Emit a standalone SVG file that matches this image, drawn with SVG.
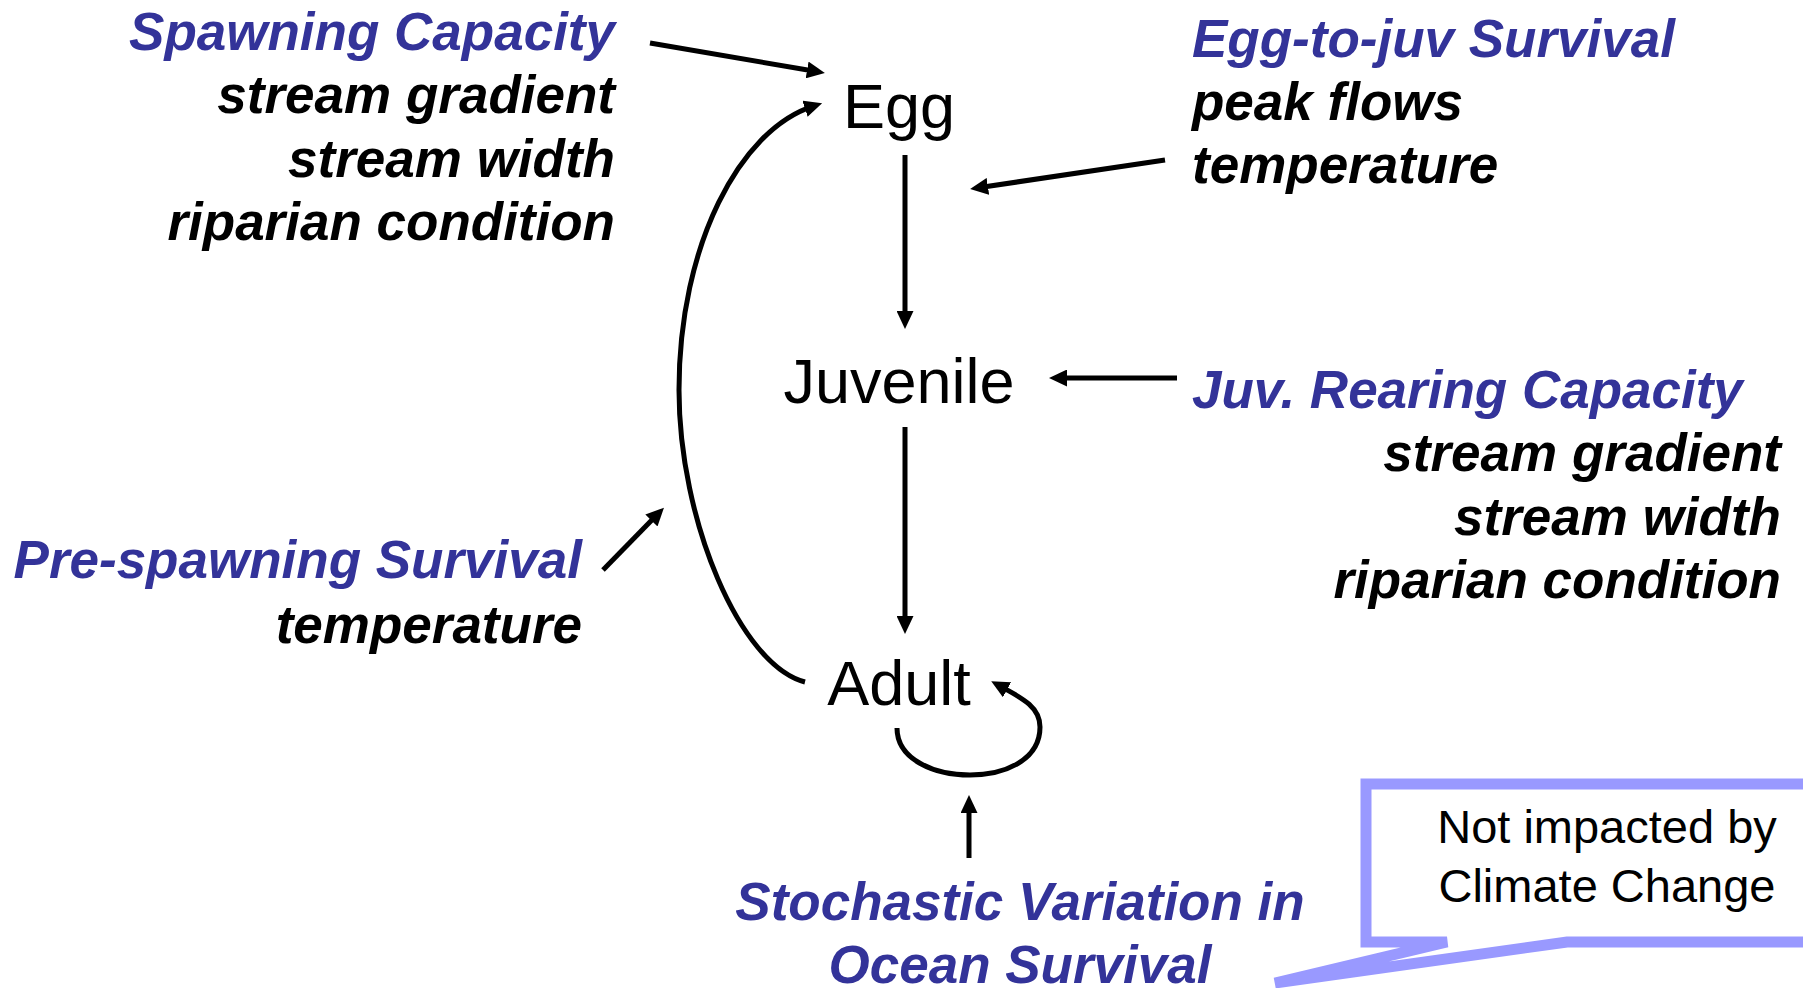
<svg xmlns="http://www.w3.org/2000/svg" width="1803" height="988" viewBox="0 0 1803 988">
<defs>
<style>
.node{font-family:"Liberation Sans",Arial,sans-serif;font-size:63px;fill:#000}
.title{font-family:"Liberation Sans",Arial,sans-serif;font-size:53px;font-weight:bold;font-style:italic;fill:#333399}
.factor{font-family:"Liberation Sans",Arial,sans-serif;font-size:53px;font-weight:bold;font-style:italic;fill:#000}
.note{font-family:"Liberation Sans",Arial,sans-serif;font-size:47px;fill:#000}
.conn{fill:none;stroke:#000;stroke-width:5;marker-end:url(#ah)}
</style>
<marker id="ah" markerUnits="userSpaceOnUse" markerWidth="18" markerHeight="17" refX="8" refY="8.5" orient="auto">
<path d="M0,0 L18,8.5 L0,17 Z" fill="#000"/>
</marker>
</defs>
<rect width="1803" height="988" fill="#fff"/>

<g id="callout">
<path d="M1366,784 H1815 V942 H1567 L1275,983 L1447,942 H1366 Z" fill="#fff" stroke="#9999ff" stroke-width="11"/>
<text class="note" x="1607" y="843" text-anchor="middle">Not impacted by</text>
<text class="note" x="1607" y="902" text-anchor="middle">Climate Change</text>
</g>

<g id="connectors">
<path class="conn" d="M650,43 L815,71.3"/>
<path class="conn" d="M905,155 L905,319"/>
<path class="conn" d="M1165,160 L980,187.5"/>
<path class="conn" d="M1177,378 L1059,378"/>
<path class="conn" d="M905,427 L905,624"/>
<path class="conn" d="M603,570 L657,514.8"/>
<path class="conn" d="M969,858 L969,805"/>
<path class="conn" d="M805,682 C740,665 679,520 679,390 C679,245 740,130 812.6,106.3"/>
<path class="conn" d="M897,728 C897,760 935,775 970,775 C1005,775 1040,760 1040,727 C1040,707 1022,698 1000,686"/>
</g>

<g id="egg"><text class="node" x="899" y="128" text-anchor="middle">Egg</text></g>
<g id="juvenile"><text class="node" x="899" y="403" text-anchor="middle">Juvenile</text></g>
<g id="adult"><text class="node" x="899" y="705" text-anchor="middle">Adult</text></g>

<g id="spawning-capacity" text-anchor="end">
<text class="title" x="615" y="50">Spawning Capacity</text>
<text class="factor" x="615" y="113">stream gradient</text>
<text class="factor" x="615" y="177">stream width</text>
<text class="factor" x="615" y="240">riparian condition</text>
</g>

<g id="egg-to-juv-survival">
<text class="title" x="1192" y="57">Egg-to-juv Survival</text>
<text class="factor" x="1192" y="120">peak flows</text>
<text class="factor" x="1192" y="183">temperature</text>
</g>

<g id="juv-rearing-capacity">
<text class="title" x="1192" y="408">Juv. Rearing Capacity</text>
<text class="factor" x="1781" y="471" text-anchor="end">stream gradient</text>
<text class="factor" x="1781" y="535" text-anchor="end">stream width</text>
<text class="factor" x="1781" y="598" text-anchor="end">riparian condition</text>
</g>

<g id="pre-spawning-survival" text-anchor="end">
<text class="title" x="582" y="578">Pre-spawning Survival</text>
<text class="factor" x="582" y="643">temperature</text>
</g>

<g id="ocean-survival" text-anchor="middle">
<text class="title" x="1020" y="920">Stochastic Variation in</text>
<text class="title" x="1020" y="983">Ocean Survival</text>
</g>
</svg>
